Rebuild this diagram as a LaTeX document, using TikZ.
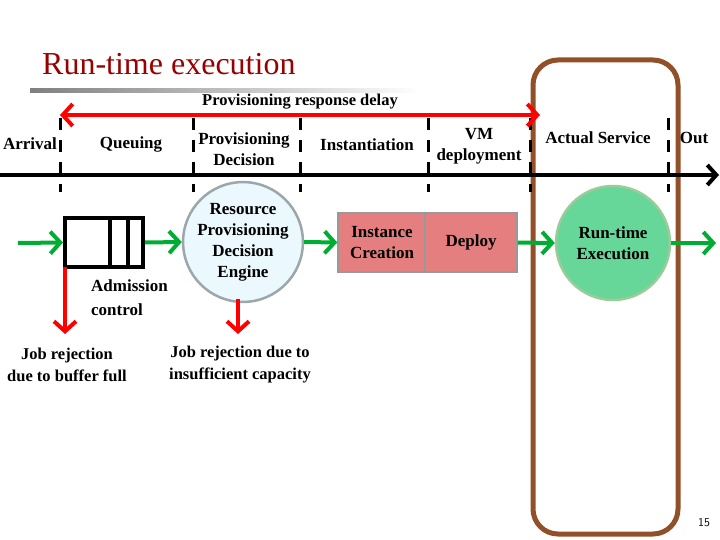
\documentclass[tikz,border=0pt]{standalone}
\usepackage{fontspec}
\setmainfont{Liberation Serif}
\usetikzlibrary{arrows.meta}
\begin{document}
\begin{tikzpicture}[x=1pt,y=-1pt,
 lbl/.style={font=\bfseries\fontsize{17}{21}\selectfont,align=center,inner sep=0pt},
 tick/.style={line width=3pt,dash pattern=on 12pt off 10pt},
 garrow/.style={draw=green!60!black!80!cyan,line width=4pt,-{Straight Barb[length=10pt,width=22pt]}},
 rarrow/.style={draw=red,line width=4pt,-{Straight Barb[length=10pt,width=22pt]}},
 box/.style={draw=gray!80,line width=1.5pt,fill=red!45!white!90!black,minimum width=88pt,minimum height=59pt,lbl}]
\useasboundingbox (0,0) rectangle (720,540);
\node[anchor=west,text=red!60!black,font=\fontsize{32}{34}\selectfont,inner sep=0pt] (title) at (42,64) {Run-time execution};
\shade[left color=gray,right color=white] (30,89) rectangle (420,93);
% brown box
\node[draw=brown!70!black!90!red,line width=5pt,rounded corners=25pt,minimum width=145pt,minimum height=474pt] (act) at (605.5,297) {};
% timeline
\coordinate (t0) at (0,175); \coordinate (t1) at (719,175);
\draw[line width=4pt,-{Straight Barb[length=9pt,width=20pt]}] (t0) -- (t1);
\foreach \x/\n in {60/a,193/b,300/c,428/d,530/e,668/f}{
 \coordinate (u\n) at (\x,118); \coordinate (l\n) at (\x,192);
 \draw[tick] (u\n) -- (l\n);}
% delay arrow
\coordinate (da) at (60,115); \coordinate (db) at (540,115);
\draw[red,line width=4pt,{Straight Barb[length=10pt,width=22pt]}-{Straight Barb[length=10pt,width=22pt]}] (da) -- (db);
\node[lbl,font=\bfseries\fontsize{16.5}{18}\selectfont] (delay) at (300,102) {Provisioning response delay};
\node[lbl] (arr) at (30,144) {Arrival};
\node[lbl] (que) at (131,144) {Queuing};
\node[lbl] (pd) at (244,149) {Provisioning\\Decision};
\node[lbl] (ins) at (367,145) {Instantiation};
\node[lbl] (vm) at (479,146) {VM\\deployment};
\node[lbl] (as) at (598,138) {Actual Service};
\node[lbl] (out) at (694,138) {Out};
% queue
\node[draw,line width=4pt,minimum width=78pt,minimum height=49pt,inner sep=0pt] (q) at (104,242.5) {};
\draw[line width=4pt] (110,218) -- (110,267) (128,218) -- (128,267);
\coordinate (in0) at (18,243);
\draw[garrow] (in0) -- (q.west);
\node[circle,draw=gray!70!cyan!60!black!60,line width=2.5pt,fill=cyan!8,minimum size=114pt,lbl,inner sep=0pt] (eng) at (243,242) {Resource\\Provisioning\\Decision\\Engine};
\draw[garrow] (q.east) -- (eng.west);
\node[box] (ic) at (382,242.5) {Instance\\Creation};
\node[box,minimum width=92pt] (dep) at (471,242.5) {Deploy};
\draw[garrow] (eng.east) -- (ic.west);
\node[circle,draw=green!50!black!40,line width=2.5pt,fill=green!60!black!50!white!80!cyan,minimum size=114pt,lbl,inner sep=0pt] (rt) at (613,243) {Run-time\\Execution};
\draw[garrow] (dep.east) -- (rt.west);
\coordinate (o1) at (716,243);
\draw[garrow] (rt.east) -- (o1);
% rejections
\coordinate (qs) at (65,267); \coordinate (r1) at (65,334);
\coordinate (es) at (238,299); \coordinate (r2) at (238,334);
\draw[rarrow] (qs) -- (r1);
\draw[rarrow] (es) -- (r2);
\node[lbl,anchor=north west,align=left,font=\bfseries\fontsize{17}{24}\selectfont] (adm) at (91,280) {Admission\\control};
\node[lbl,font=\bfseries\fontsize{16.5}{22}\selectfont] (j1) at (67,365) {Job rejection\\due to buffer full};
\node[lbl,font=\bfseries\fontsize{16.5}{22}\selectfont] (j2) at (240,365) {Job rejection due to\\insufficient capacity};
\node[font=\sffamily\fontsize{12}{14}\selectfont] (pg) at (704,523) {15};
\end{tikzpicture}
\end{document}
